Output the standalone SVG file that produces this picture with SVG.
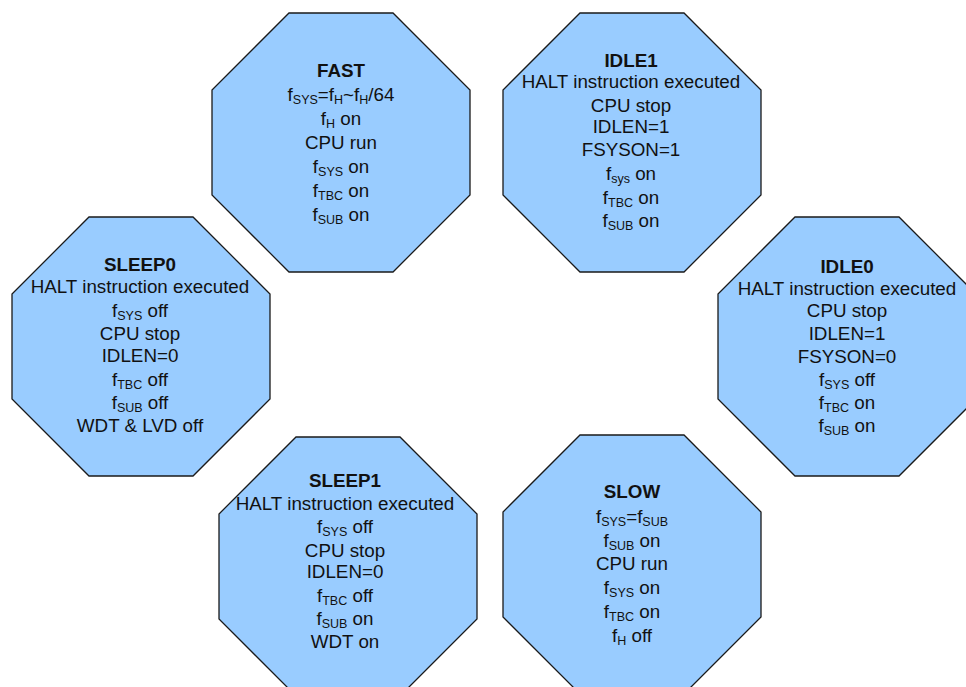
<svg xmlns="http://www.w3.org/2000/svg" width="966" height="687" viewBox="0 0 966 687">
<style>
.oct{fill:#99CCFF;stroke:#1a1a1a;stroke-width:1.3}
text{font-family:"Liberation Sans",Arial,sans-serif;font-size:18.8px;fill:#111;text-anchor:middle}
.t{font-weight:bold}
.s{font-size:12.5px}
</style>
<defs>
<path id="octagon" class="oct" d="M77,0 H181 L258,77 V182 L181,259 H77 L0,182 V77 Z"/>
</defs>
<rect width="966" height="687" fill="#fff"/>
<g id="connectors"/>
<g id="fast">
<use href="#octagon" x="212" y="13"/>
<text x="341" y="77" class="t">FAST</text>
<text x="341" y="101">f<tspan class="s" dy="3">SYS</tspan><tspan dy="-3">=f</tspan><tspan class="s" dy="3">H</tspan><tspan dy="-3">~f</tspan><tspan class="s" dy="3">H</tspan><tspan dy="-3">/64</tspan></text>
<text x="341" y="125">f<tspan class="s" dy="3">H</tspan><tspan dy="-3"> on</tspan></text>
<text x="341" y="149">CPU run</text>
<text x="341" y="173">f<tspan class="s" dy="3">SYS</tspan><tspan dy="-3"> on</tspan></text>
<text x="341" y="197">f<tspan class="s" dy="3">TBC</tspan><tspan dy="-3"> on</tspan></text>
<text x="341" y="221">f<tspan class="s" dy="3">SUB</tspan><tspan dy="-3"> on</tspan></text>
</g>
<g id="idle1">
<use href="#octagon" x="503" y="13"/>
<text x="631" y="67" class="t">IDLE1</text>
<text x="631" y="88">HALT instruction executed</text>
<text x="631" y="112">CPU stop</text>
<text x="631" y="133">IDLEN=1</text>
<text x="631" y="156">FSYSON=1</text>
<text x="631" y="180">f<tspan class="s" dy="3">sys</tspan><tspan dy="-3"> on</tspan></text>
<text x="631" y="204">f<tspan class="s" dy="3">TBC</tspan><tspan dy="-3"> on</tspan></text>
<text x="631" y="227">f<tspan class="s" dy="3">SUB</tspan><tspan dy="-3"> on</tspan></text>
</g>
<g id="sleep0">
<use href="#octagon" x="12" y="217"/>
<text x="140" y="271" class="t">SLEEP0</text>
<text x="140" y="293">HALT instruction executed</text>
<text x="140" y="317">f<tspan class="s" dy="3">SYS</tspan><tspan dy="-3"> off</tspan></text>
<text x="140" y="340">CPU stop</text>
<text x="140" y="362">IDLEN=0</text>
<text x="140" y="386">f<tspan class="s" dy="3">TBC</tspan><tspan dy="-3"> off</tspan></text>
<text x="140" y="409">f<tspan class="s" dy="3">SUB</tspan><tspan dy="-3"> off</tspan></text>
<text x="140" y="432">WDT &amp; LVD off</text>
</g>
<g id="idle0">
<use href="#octagon" x="718" y="217"/>
<text x="847" y="273" class="t">IDLE0</text>
<text x="847" y="295">HALT instruction executed</text>
<text x="847" y="317">CPU stop</text>
<text x="847" y="340">IDLEN=1</text>
<text x="847" y="363">FSYSON=0</text>
<text x="847" y="386">f<tspan class="s" dy="3">SYS</tspan><tspan dy="-3"> off</tspan></text>
<text x="847" y="409">f<tspan class="s" dy="3">TBC</tspan><tspan dy="-3"> on</tspan></text>
<text x="847" y="432">f<tspan class="s" dy="3">SUB</tspan><tspan dy="-3"> on</tspan></text>
</g>
<g id="sleep1">
<use href="#octagon" x="219" y="437"/>
<text x="345" y="487" class="t">SLEEP1</text>
<text x="345" y="510">HALT instruction executed</text>
<text x="345" y="533">f<tspan class="s" dy="3">SYS</tspan><tspan dy="-3"> off</tspan></text>
<text x="345" y="557">CPU stop</text>
<text x="345" y="578">IDLEN=0</text>
<text x="345" y="602">f<tspan class="s" dy="3">TBC</tspan><tspan dy="-3"> off</tspan></text>
<text x="345" y="625">f<tspan class="s" dy="3">SUB</tspan><tspan dy="-3"> on</tspan></text>
<text x="345" y="648">WDT on</text>
</g>
<g id="slow">
<use href="#octagon" x="503" y="435"/>
<text x="632" y="498" class="t">SLOW</text>
<text x="632" y="523">f<tspan class="s" dy="3">SYS</tspan><tspan dy="-3">=f</tspan><tspan class="s" dy="3">SUB</tspan></text>
<text x="632" y="547">f<tspan class="s" dy="3">SUB</tspan><tspan dy="-3"> on</tspan></text>
<text x="632" y="570">CPU run</text>
<text x="632" y="594">f<tspan class="s" dy="3">SYS</tspan><tspan dy="-3"> on</tspan></text>
<text x="632" y="618">f<tspan class="s" dy="3">TBC</tspan><tspan dy="-3"> on</tspan></text>
<text x="632" y="642">f<tspan class="s" dy="3">H</tspan><tspan dy="-3"> off</tspan></text>
</g>
</svg>
